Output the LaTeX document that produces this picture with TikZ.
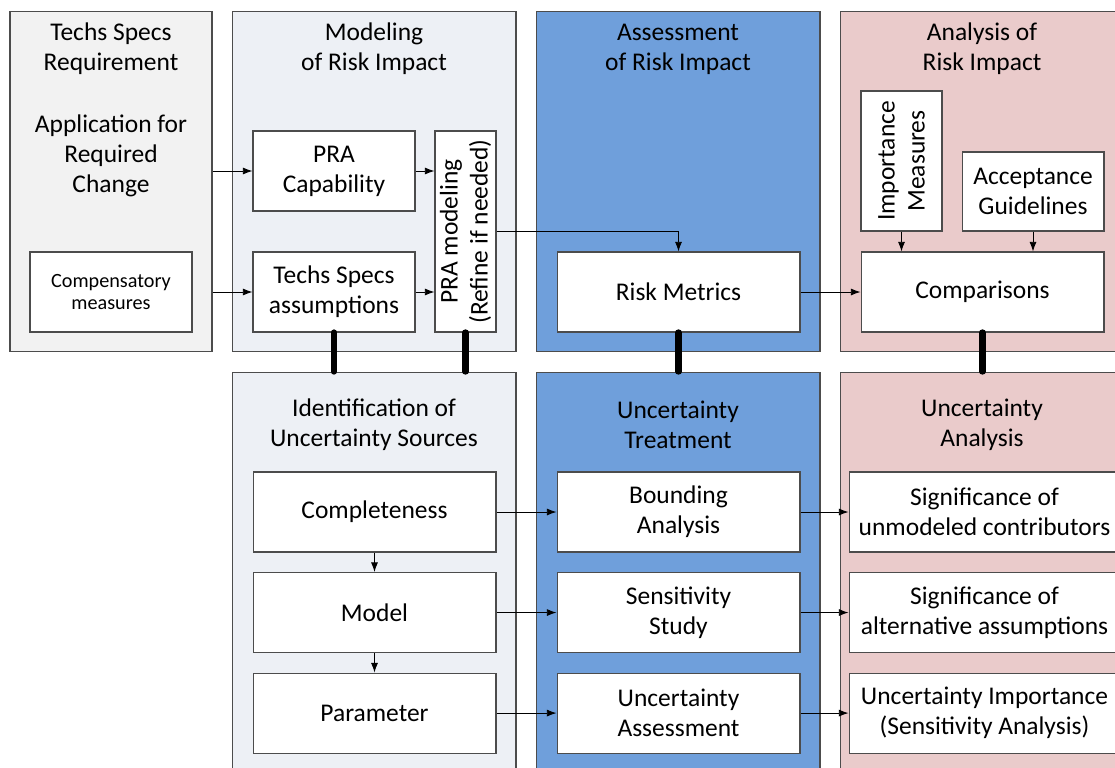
\documentclass[tikz,border=0pt]{standalone}
\usepackage{fontspec}
\setmainfont{Carlito}
\usepackage{tikz}
\usetikzlibrary{arrows.meta,positioning}
\definecolor{specgray}{HTML}{F2F2F2}
\definecolor{modelblue}{HTML}{EDF0F5}
\definecolor{assessblue}{HTML}{6F9FDB}
\definecolor{analysispink}{HTML}{EACBCB}

\begin{document}
\begin{tikzpicture}[x=0.02cm,y=-0.02cm,
    panel/.style={draw=black!70,line width=0.6pt,inner sep=0pt,minimum height=6.82cm},
    box/.style={draw=black!70,fill=white,line width=0.6pt,align=center,minimum height=1.6cm,inner sep=1pt,font=\fontsize{14.5}{17}\selectfont},
    title/.style={align=center,font=\fontsize{14.5}{17}\selectfont},
    arr/.style={-{Latex[length=5.5pt,width=4pt]},line width=0.5pt},
    link/.style={line width=3.6pt,line cap=round}]
        \useasboundingbox (0,0) rectangle (1115,767);

        % top row
        \node[panel,fill=specgray,minimum width=4.04cm] (tsr) at (111,181.5) {};
        \node[panel,fill=modelblue,minimum width=5.68cm] (mod) at (374,181.5) {};
        \node[panel,fill=assessblue,minimum width=5.68cm] (ass) at (678,181.5) {};
        \node[panel,fill=analysispink,minimum width=5.68cm] (ana) at (982,181.5) {};
        % bottom row
        \node[panel,fill=modelblue,minimum width=5.68cm,minimum height=8.36cm] (idf) at (374,581) {};
        \node[panel,fill=assessblue,minimum width=5.68cm,minimum height=8.36cm] (unt) at (678,581) {};
        \node[panel,fill=analysispink,minimum width=5.68cm,minimum height=8.36cm] (una) at (982,581) {};

        \node[title] (tsrtitle) at (111,49) {Techs Specs\\Requirement};
        \node[title] (apptext) at (111,156) {Application for\\Required\\Change};
        \node[title] (modtitle) at (374,49) {Modeling\\of Risk Impact};
        \node[title] (asstitle) at (678,49) {Assessment\\of Risk Impact};
        \node[title] (anatitle) at (982,49) {Analysis of\\Risk Impact};
        \node[title] (idftitle) at (374,425) {Identification of\\Uncertainty Sources};
        \node[title] (unttitle) at (678,425) {Uncertainty\\Treatment};
        \node[title] (unatitle) at (982,425) {Uncertainty\\Analysis};

        \node[box,minimum width=3.24cm,font=\fontsize{11.5}{13}\selectfont] (comp) at (111,292) {Compensatory\\measures};
        \node[box,minimum width=3.24cm] (prac) at (334,171) {PRA\\Capability};
        \node[box,minimum width=3.24cm] (tsa) at (334,292) {Techs Specs\\assumptions};
        \node[box,minimum width=1.22cm,minimum height=4.02cm] (pram) at (465.5,231.5) {};
        \node[title,rotate=90] (pramtext) at (pram.center) {PRA modeling\\(Refine if needed)};
        \node[box,minimum width=4.86cm] (rm) at (678.5,292) {Risk Metrics};
        \node[box,minimum width=1.62cm,minimum height=2.8cm] (imp) at (901.5,161) {};
        \node[title,rotate=90] (imptext) at (imp.center) {Importance\\Measures};
        \node[box,minimum width=2.84cm,minimum height=1.58cm] (acc) at (1033,191.5) {Acceptance\\Guidelines};
        \node[box,minimum width=4.86cm] (cmp) at (982.5,292) {Comparisons};

        \node[box,minimum width=4.86cm] (compl) at (374.5,512) {Completeness};
        \node[box,minimum width=4.86cm] (model) [below=0.39cm of compl] {Model};
        \node[box,minimum width=4.86cm] (param) [below=0.39cm of model] {Parameter};
        \node[box,minimum width=4.86cm] (bound) at (678.5,512) {Bounding\\Analysis};
        \node[box,minimum width=4.86cm] (sens) [below=0.39cm of bound] {Sensitivity\\Study};
        \node[box,minimum width=4.86cm] (uass) [below=0.39cm of sens] {Uncertainty\\Assessment};
        \node[box,minimum width=5.42cm] (sig1) at (984.5,512) {Significance of\\unmodeled contributors};
        \node[box,minimum width=5.42cm] (sig2) [below=0.39cm of sig1] {Significance of\\alternative assumptions};
        \node[box,minimum width=5.42cm] (sig3) [below=0.39cm of sig2] {Uncertainty Importance\\(Sensitivity Analysis)};

        \draw[arr] (tsr.east |- prac.west)--(prac.west);
        \draw[arr] (tsr.east |- tsa.west)--(tsa.west);
        \draw[arr] (prac.east)--(prac.east -| pram.west);
        \draw[arr] (tsa.east)--(tsa.east -| pram.west);
        \draw[arr] (pram.east) -| (rm.north);
        \draw[arr] (rm.east)--(cmp.west);
        \draw[arr] (imp.south)--(imp.south |- cmp.north);
        \draw[arr] (acc.south)--(acc.south |- cmp.north);
        \draw[arr] (compl.south)--(model.north);
        \draw[arr] (model.south)--(param.north);
        \draw[arr] (compl.east)--(bound.west);
        \draw[arr] (model.east)--(sens.west);
        \draw[arr] (param.east)--(uass.west);
        \draw[arr] (bound.east)--(sig1.west);
        \draw[arr] (sens.east)--(sig2.west);
        \draw[arr] (uass.east)--(sig3.west);

        \draw[link] (tsa.south)--(tsa.south |- idf.north);
        \draw[link] (pram.south)--(pram.south |- idf.north);
        \draw[link] (rm.south)--(rm.south |- unt.north);
        \draw[link] (cmp.south)--(cmp.south |- una.north);
\end{tikzpicture}
\end{document}
